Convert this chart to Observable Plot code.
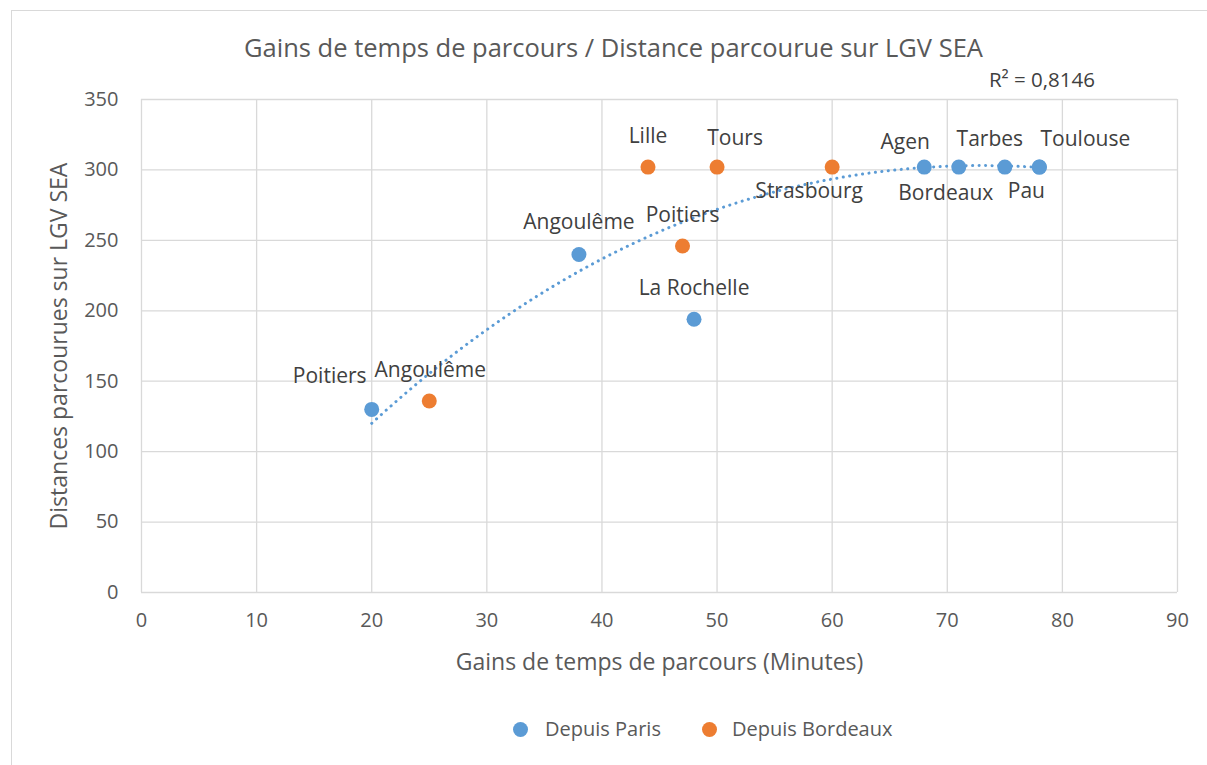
<!DOCTYPE html>
<html>
<head>
<meta charset="utf-8">
<script src="https://cdn.jsdelivr.net/npm/d3@7"></script>
<script src="https://cdn.jsdelivr.net/npm/@observablehq/plot@0.6"></script>
<style>
  html, body { margin: 0; padding: 0; background: #fff; width: 1207px; height: 765px; overflow: hidden; font-family: "Open Sans", sans-serif; }
  #frame { position: absolute; left: 11px; top: 10px; width: 1210px; height: 770px; border: 1px solid #d9d9d9; box-sizing: border-box; }
  #title { position: absolute; left: 0; width: 1227px; top: 31px; text-align: center; font-size: 25.5px; line-height: 32px; color: #595959; white-space: nowrap; }
  #r2 { position: absolute; right: 112px; top: 65px; font-size: 20.5px; line-height: 28px; color: #404040; white-space: nowrap; }
  #chart { position: absolute; left: 0; top: 70px; }
  #legend { position: absolute; left: 0; top: 714px; width: 1207px; height: 30px; }
  .lg { position: absolute; top: 0; font-size: 20px; line-height: 30px; color: #595959; white-space: nowrap; }
  .sw { position: absolute; top: 8px; width: 15px; height: 15px; border-radius: 50%; }
</style>
</head>
<body>
<div id="frame"></div>
<div id="title">Gains de temps de parcours / Distance parcourue sur LGV SEA</div>
<div id="r2">R² = 0,8146</div>
<div id="chart"></div>
<div id="legend">
  <div class="sw" style="left:513px;background:#5B9BD5"></div>
  <div class="lg" style="left:545px">Depuis Paris</div>
  <div class="sw" style="left:702px;background:#ED7D31"></div>
  <div class="lg" style="left:732px">Depuis Bordeaux</div>
</div>
<script>
// ---- data ----
const parisCities = ["Poitiers", "Angoulême", "La Rochelle", "Agen", "Bordeaux", "Tarbes", "Pau", "Toulouse"];
const parisGain   = [20, 38, 48, 68, 71, 75, 78, 78];
const parisDist   = [130, 240, 194, 302, 302, 302, 302, 302];

const bordeauxCities = ["Angoulême", "Poitiers", "Lille", "Tours", "Strasbourg"];
const bordeauxGain   = [25, 47, 44, 50, 60];
const bordeauxDist   = [136, 246, 302, 302, 302];

const xTicks = [0, 10, 20, 30, 40, 50, 60, 70, 80, 90];
const yTicks = [0, 50, 100, 150, 200, 250, 300, 350];

// ---- label offsets (style) ----
const parisOffsets = {
  "Poitiers": [-42, -33], "Angoulême": [0, -32], "La Rochelle": [0, -31],
  "Agen": [-19, -25], "Bordeaux": [-13, 26], "Tarbes": [-15, -28],
  "Pau": [-13, 24], "Toulouse": [46, -28]
};
const bordeauxOffsets = {
  "Angoulême": [1, -31], "Poitiers": [0, -31], "Lille": [0, -31],
  "Tours": [18, -29], "Strasbourg": [-23, 24]
};

const paris = parisCities.map((c, i) => ({city: c, x: parisGain[i], y: parisDist[i]}));
const bordeaux = bordeauxCities.map((c, i) => ({city: c, x: bordeauxGain[i], y: bordeauxDist[i]}));

// ---- polynomial least-squares trend over all plotted points ----
function polyFit(xs, ys, d) {
  const m = d + 1;
  const A = [];
  for (let i = 0; i < m; i++) {
    A.push([]);
    for (let j = 0; j < m; j++) A[i].push(d3.sum(xs, x => Math.pow(x, i + j)));
    A[i].push(d3.sum(xs.map((x, k) => Math.pow(x, i) * ys[k])));
  }
  for (let i = 0; i < m; i++) for (let j = i + 1; j < m; j++) {
    const f = A[j][i] / A[i][i];
    for (let k = i; k <= m; k++) A[j][k] -= f * A[i][k];
  }
  const c = new Array(m).fill(0);
  for (let i = m - 1; i >= 0; i--) {
    let v = A[i][m];
    for (let k = i + 1; k < m; k++) v -= A[i][k] * c[k];
    c[i] = v / A[i][i];
  }
  return c;
}
const allX = parisGain.slice(0, 7).concat(bordeauxGain);
const allY = parisDist.slice(0, 7).concat(bordeauxDist);
const coef = polyFit(allX, allY, 3);
const evalPoly = x => coef.reduce((s, ci, i) => s + ci * Math.pow(x, i), 0);
const xMin = d3.min(parisGain), xMax = d3.max(parisGain);
const trend = d3.range(xMin, xMax + 0.001, 0.5).map(x => ({x, y: evalPoly(x)}));

const labelColor = "#404040";
const axisColor = "#595959";

function labelMarks(rows, offsets) {
  return rows.map(r => Plot.text([r], {
    x: "x", y: "y", text: "city",
    dx: offsets[r.city][0], dy: offsets[r.city][1],
    fill: labelColor, fontSize: 21, textAnchor: "middle", lineAnchor: "middle"
  }));
}

const chart = Plot.plot({
  width: 1207,
  height: 610,
  marginLeft: 141,
  marginRight: 30,
  marginTop: 29,
  marginBottom: 88,
  style: {fontFamily: "'Open Sans', sans-serif", background: "transparent", overflow: "visible"},
  x: {domain: [0, 90]},
  y: {domain: [0, 350]},
  marks: [
    Plot.gridX(xTicks, {stroke: "#d9d9d9", strokeOpacity: 1, strokeWidth: 1.3}),
    Plot.gridY(yTicks, {stroke: "#d9d9d9", strokeOpacity: 1, strokeWidth: 1.3}),
    Plot.axisX(xTicks, {tickSize: 0, tickPadding: 20, fontSize: 20, fill: axisColor, label: null}),
    Plot.axisY(yTicks, {tickSize: 0, tickPadding: 23, fontSize: 20, fill: axisColor, label: null}),
    Plot.text(["Gains de temps de parcours (Minutes)"], {frameAnchor: "bottom", dy: 70, fontSize: 23, fill: axisColor, textAnchor: "middle", lineAnchor: "middle"}),
    Plot.text(["Distances parcourues sur LGV SEA"], {frameAnchor: "left", dx: -82, rotate: -90, fontSize: 23, fill: axisColor, textAnchor: "middle", lineAnchor: "middle"}),
    Plot.line(trend, {x: "x", y: "y", stroke: "#5B9BD5", strokeWidth: 3, strokeDasharray: "0.1 6.4", strokeLinecap: "round"}),
    Plot.dot(paris, {x: "x", y: "y", r: 7.5, fill: "#5B9BD5", stroke: "none"}),
    Plot.dot(bordeaux, {x: "x", y: "y", r: 7.5, fill: "#ED7D31", stroke: "none"}),
    ...labelMarks(paris, parisOffsets),
    ...labelMarks(bordeaux, bordeauxOffsets)
  ]
});
document.getElementById("chart").appendChild(chart);
</script>
</body>
</html>
